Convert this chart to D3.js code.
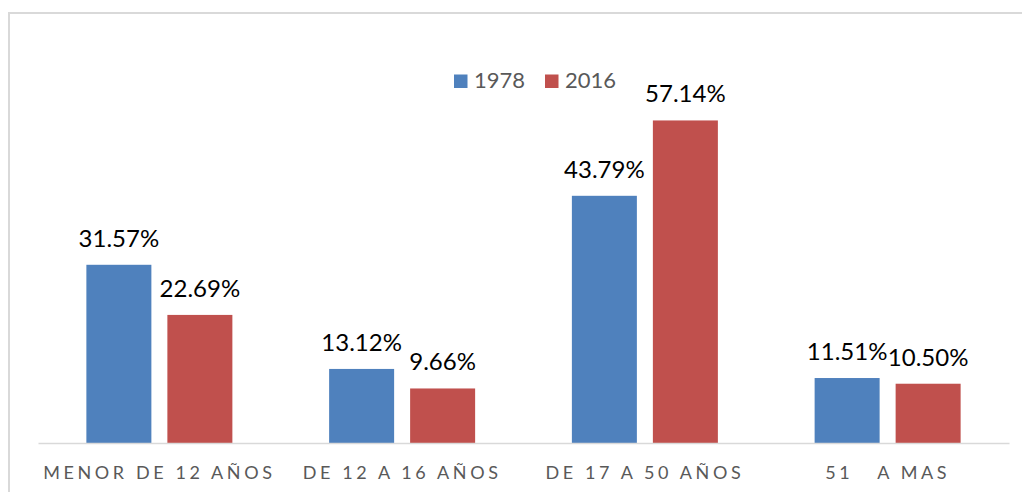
<!DOCTYPE html>
<html><head><meta charset="utf-8">
<script src="https://cdn.jsdelivr.net/npm/d3@7/dist/d3.min.js"></script>
<style>html,body{margin:0;padding:0;background:#fff;}svg{display:block;}</style>
</head><body>
<svg id="chart" width="1022" height="492"></svg>
<script>
const categories = ["MENOR DE 12 AÑOS", "DE 12 A 16 AÑOS", "DE 17 A 50 AÑOS", "51   A MAS"];
const seriesNames = ["1978", "2016"];
const values1978 = [31.57, 13.12, 43.79, 11.51];
const values2016 = [22.69, 9.66, 57.14, 10.50];
const colors = ["#4F81BD", "#C0504D"];

const svg = d3.select("#chart");
const W = 1022, H = 492;
const font = "Lato, 'Open Sans', sans-serif";

// chart frame
svg.append("rect").attr("x", 9).attr("y", 13).attr("width", W + 20).attr("height", H + 20)
  .attr("fill", "none").attr("stroke", "#d9d9d9").attr("stroke-width", 2);

const x0 = d3.scaleBand().domain(categories).range([38, 1009]).padding(0);
const groupW = 146;
const x1 = d3.scaleBand().domain(seriesNames).range([0, groupW]).paddingInner(16/81).paddingOuter(0);
const y = d3.scaleLinear().domain([0, 60]).range([443, 443 - 60 * 5.645]);

const data = categories.map((c, i) => ({cat: c, vals: [values1978[i], values2016[i]]}));

const groups = svg.selectAll("g.grp").data(data).enter().append("g")
  .attr("transform", d => `translate(${x0(d.cat) + (x0.bandwidth() - groupW) / 2},0)`);

groups.selectAll("rect").data(d => d.vals.map((v, j) => ({v, s: seriesNames[j], j})))
  .enter().append("rect")
  .attr("x", d => x1(d.s)).attr("width", x1.bandwidth())
  .attr("y", d => y(d.v)).attr("height", d => y(0) - y(d.v))
  .attr("fill", d => colors[d.j]);

groups.selectAll("text").data(d => d.vals.map((v, j) => ({v, s: seriesNames[j], j})))
  .enter().append("text")
  .attr("x", d => x1(d.s) + x1.bandwidth() / 2)
  .attr("y", d => y(d.v) - 18)
  .attr("text-anchor", "middle")
  .attr("font-family", font).attr("font-size", 24).attr("fill", "#000")
  .text(d => d.v.toFixed(2) + "%");

// axis
const xAxis = d3.axisBottom(x0).tickSize(0).tickPadding(0);
const ax = svg.append("g").attr("transform", "translate(0,443)").call(xAxis);
ax.select(".domain").attr("stroke", "#d9d9d9").attr("stroke-width", 1.5);
ax.selectAll(".tick text")
  .attr("y", 35.5).attr("dy", 0)
  .attr("font-family", font).attr("font-size", 18).attr("fill", "#595959")
  .attr("letter-spacing", "3.6px")
  .style("white-space", "pre")
  .attr("xml:space", "preserve");

// legend
const legend = svg.append("g");
const legX = [454, 545];
seriesNames.forEach((s, i) => {
  legend.append("rect").attr("x", legX[i]).attr("y", 74.5).attr("width", 13.5).attr("height", 13.5).attr("fill", colors[i]);
  legend.append("text").attr("x", legX[i] + 20).attr("y", 88.3)
    .attr("font-family", font).attr("font-size", 22).attr("fill", "#595959").text(s);
});
</script>
</body></html>
